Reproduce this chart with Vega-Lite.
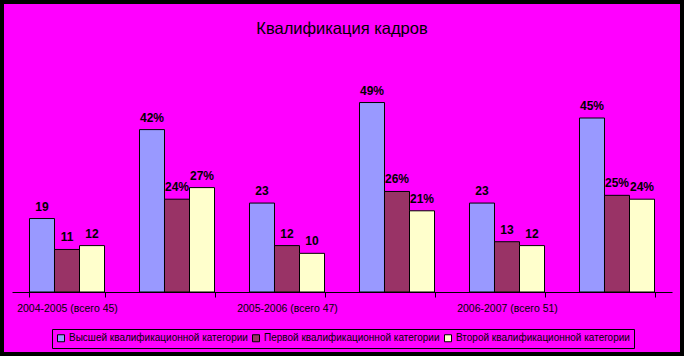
{
  "$schema": "https://vega.github.io/schema/vega-lite/v6.json",
  "width": 676,
  "height": 348,
  "autosize": {"type": "none"},
  "padding": 4,
  "background": "#000000",
  "title": {
    "text": "Квалификация кадров",
    "font": "Liberation Sans",
    "fontSize": 16.5,
    "fontWeight": "normal",
    "color": "#000000",
    "anchor": "middle",
    "frame": "group",
    "offset": -33
  },
  "data": {
    "values": [
      {"period": "2004-2005 (всего 45)", "cat": "Высшей квалификационной категории", "value": 19, "label": "19"},
      {"period": "2004-2005 (всего 45)", "cat": "Первой квалификационной категории", "value": 11, "label": "11"},
      {"period": "2004-2005 (всего 45)", "cat": "Второй квалификационной категории", "value": 12, "label": "12"},
      {"period": "2004-2005 %", "cat": "Высшей квалификационной категории", "value": 42, "label": "42%"},
      {"period": "2004-2005 %", "cat": "Первой квалификационной категории", "value": 24, "label": "24%"},
      {"period": "2004-2005 %", "cat": "Второй квалификационной категории", "value": 27, "label": "27%"},
      {"period": "2005-2006 (всего 47)", "cat": "Высшей квалификационной категории", "value": 23, "label": "23"},
      {"period": "2005-2006 (всего 47)", "cat": "Первой квалификационной категории", "value": 12, "label": "12"},
      {"period": "2005-2006 (всего 47)", "cat": "Второй квалификационной категории", "value": 10, "label": "10"},
      {"period": "2005-2006 %", "cat": "Высшей квалификационной категории", "value": 49, "label": "49%"},
      {"period": "2005-2006 %", "cat": "Первой квалификационной категории", "value": 26, "label": "26%"},
      {"period": "2005-2006 %", "cat": "Второй квалификационной категории", "value": 21, "label": "21%"},
      {"period": "2006-2007 (всего 51)", "cat": "Высшей квалификационной категории", "value": 23, "label": "23"},
      {"period": "2006-2007 (всего 51)", "cat": "Первой квалификационной категории", "value": 13, "label": "13"},
      {"period": "2006-2007 (всего 51)", "cat": "Второй квалификационной категории", "value": 12, "label": "12"},
      {"period": "2006-2007 %", "cat": "Высшей квалификационной категории", "value": 45, "label": "45%"},
      {"period": "2006-2007 %", "cat": "Первой квалификационной категории", "value": 25, "label": "25%"},
      {"period": "2006-2007 %", "cat": "Второй квалификационной категории", "value": 24, "label": "24%"}
    ]
  },
  "encoding": {
    "x": {
      "field": "period",
      "type": "nominal",
      "sort": null,
      "scale": {"range": [8, 668], "paddingInner": 0.318, "paddingOuter": 0.159},
      "axis": {
        "title": null,
        "orient": "bottom",
        "offset": -60,
        "labelAngle": 0,
        "labelExpr": "test(/%/, datum.label) ? '' : datum.label",
        "labelFont": "Liberation Sans",
        "labelFontSize": 10.5,
        "labelColor": "#000000",
        "labelPadding": 6,
        "tickBand": "extent",
        "tickSize": 5,
        "tickColor": "#000000",
        "domainColor": "#000000",
        "domainWidth": 1,
        "grid": false
      }
    },
    "xOffset": {
      "field": "cat",
      "type": "nominal",
      "sort": ["Высшей квалификационной категории", "Первой квалификационной категории", "Второй квалификационной категории"],
      "scale": {"paddingInner": 0, "paddingOuter": 0}
    },
    "y": {
      "field": "value",
      "type": "quantitative",
      "scale": {"domain": [0, 60], "range": [288, 56], "nice": false},
      "axis": null
    }
  },
  "layer": [
    {
      "mark": {"type": "bar", "stroke": "#000000", "strokeWidth": 1},
      "encoding": {
        "color": {
          "field": "cat",
          "type": "nominal",
          "sort": ["Высшей квалификационной категории", "Первой квалификационной категории", "Второй квалификационной категории"],
          "scale": {"range": ["#9999FF", "#993366", "#FFFFCC"]},
          "legend": {
            "title": null,
            "orient": "none",
            "legendX": 48,
            "legendY": 325,
            "direction": "horizontal",
            "symbolType": "square",
            "symbolSize": 49,
            "symbolStrokeColor": "#000000",
            "symbolStrokeWidth": 1,
            "symbolOpacity": 1,
            "labelFont": "Liberation Sans",
            "labelFontSize": 10,
            "labelColor": "#000000",
            "labelOffset": 3,
            "columnPadding": 2,
            "labelLimit": 300,
            "strokeColor": "#000000",
            "padding": 4
          }
        }
      }
    },
    {
      "mark": {"type": "text", "baseline": "bottom", "dy": -5, "font": "Liberation Sans", "fontSize": 12, "fontWeight": "bold", "color": "#000000"},
      "encoding": {
        "text": {"field": "label", "type": "nominal"}
      }
    }
  ],
  "config": {
    "view": {"stroke": null, "fill": "#FF00FF"}
  }
}
